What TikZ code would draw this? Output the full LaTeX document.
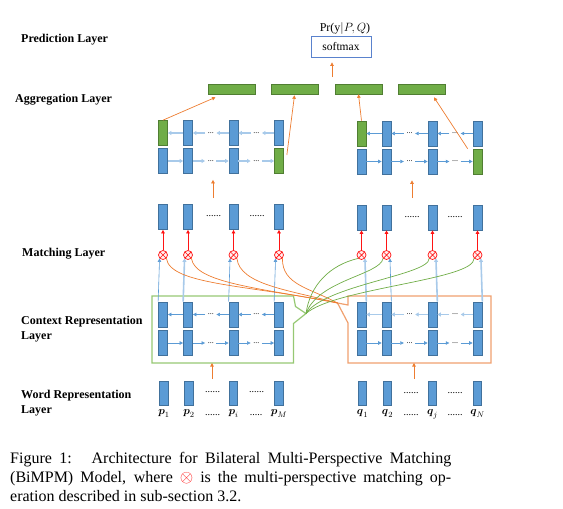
\documentclass[tikz,border=0pt]{standalone}
\usepackage{amsmath,amssymb}
\usepackage{xcolor}
\usepackage{fontspec}
\setmainfont{Liberation Serif}
\usepackage{tikz}
\usetikzlibrary{arrows.meta,calc}
\definecolor{cellblue}{RGB}{91,155,213}
\definecolor{cellblueline}{RGB}{65,113,156}
\definecolor{cellgreen}{RGB}{112,173,71}
\definecolor{cellgreenline}{RGB}{80,126,50}
\definecolor{flowline}{RGB}{91,155,213}
\definecolor{flowpale}{RGB}{168,202,234}
\definecolor{aggorange}{RGB}{237,125,49}
\definecolor{boxgreen}{RGB}{150,200,115}
\definecolor{boxorange}{RGB}{240,160,110}
\definecolor{matchred}{RGB}{255,20,20}
\definecolor{softblue}{RGB}{90,130,205}

\begin{document}
\begin{tikzpicture}[x=1pt, y=-1pt,
    cell/.style={draw=cellblueline, fill=cellblue, line width=0.7pt, minimum width=9pt, minimum height=25pt, inner sep=0pt},
    gcell/.style={cell, draw=cellgreenline, fill=cellgreen},
    aggbar/.style={draw=cellgreenline, fill=cellgreen, line width=0.6pt, minimum width=47pt, minimum height=10pt, inner sep=0pt},
    rnn/.style={draw=flowline, line width=0.6pt, -{Triangle[length=3.5pt,width=3.5pt]}},
    rnnpale/.style={draw=flowpale, line width=1.6pt, -{Triangle[length=3.5pt,width=4pt]}},
    rdots/.style={font=\fontsize{8}{8}\selectfont, inner xsep=2.5pt, inner ysep=1pt},
    vdots/.style={font=\fontsize{10}{10}\selectfont, inner sep=0pt},
    mop/.style={circle, draw=matchred, fill=red!6, line width=0.7pt, minimum size=9pt, inner sep=0pt,
        path picture={\draw[matchred, line width=0.7pt] (path picture bounding box.north west) -- (path picture bounding box.south east)
            (path picture bounding box.north east) -- (path picture bounding box.south west);}},
    oarrow/.style={draw=aggorange, line width=0.7pt, -{Triangle[length=3.5pt,width=3.5pt]}},
    rarrow/.style={draw=matchred, line width=0.7pt, -{Triangle[length=3.5pt,width=3.5pt]}},
    ocurve/.style={draw=aggorange, line width=0.7pt},
    gcurve/.style={draw=cellgreen, line width=0.7pt},
    layer/.style={font=\fontsize{12}{15}\selectfont\bfseries, anchor=west, align=left, inner sep=0pt},
    wlabel/.style={font=\fontsize{11}{13}\selectfont, anchor=base, inner sep=0pt}
]
    \useasboundingbox (0,0) rectangle (563,509);

    % Layer names
    \node[layer] (predlabel) at (21,40) {Prediction Layer};
    \node[layer] (agglabel) at (15,100) {Aggregation Layer};
    \node[layer] (matchlabel) at (22,254) {Matching Layer};
    \node[layer] (ctxlabel) at (21,328.8) {Context Representation\\Layer};
    \node[layer] (wordlabel) at (21,402.8) {Word Representation\\Layer};

    % Prediction layer
    \node[font=\fontsize{12}{14}\selectfont, inner sep=0pt] (prob) at (345,28) {Pr(y$|P,Q$)};
    \node[draw=softblue, line width=0.8pt, minimum width=60pt, minimum height=21pt, inner sep=0pt,
        font=\fontsize{11.5}{13}\selectfont] (softmax) at (341,46.5) {softmax};

    % Aggregation layer
    \foreach \i/\x in {1/231.5, 2/294.5, 3/358.5, 4/422}
        \node[aggbar] (agg\i) at (\x,89) {};
    \coordinate (aggup) at (332,77);
    \draw[oarrow, shorten >=5pt] (aggup) -- (aggup |- softmax.south);

    \foreach \i/\x/\bs/\fs in {1/163/gcell/cell, 2/188/cell/cell, 3/233.5/cell/cell, 4/279/cell/gcell} {
        \node[\bs] (apb\i) at (\x,133) {};
        \node[\fs] (apf\i) at (\x,161) {};
    }
    \foreach \i/\x/\bs/\fs in {1/361.5/gcell/cell, 2/386.5/cell/cell, 3/432.5/cell/cell, 4/477.5/cell/gcell} {
        \node[\bs] (aqb\i) at (\x,133.5) {};
        \node[\fs] (aqf\i) at (\x,161.5) {};
    }

    % Context layer
    \coordinate (gtip) at (306,313.5);
    \coordinate (otip) at (337.5,303);
    \draw[draw=boxgreen, line width=1.2pt] (152,296) -- (293.5,296) -- (295.5,306.5) -- (gtip)
        -- (293.5,323.5) -- (293.5,363) -- (152,363) -- cycle;
    \draw[draw=boxorange, line width=1.2pt] (348,296) -- (491,296) -- (491,363) -- (348,363)
        -- (348,323) -- (otip) -- (348,305) -- cycle;
    \coordinate (pbox) at (152,363);

    \foreach \i/\x in {1/163, 2/188, 3/233.5, 4/279} {
        \node[cell] (cpb\i) at (\x,314.5) {};
        \node[cell] (cpf\i) at (\x,343) {};
    }
    \foreach \i/\x in {1/361.5, 2/386.5, 3/432.5, 4/477.5} {
        \node[cell] (cqb\i) at (\x,314.5) {};
        \node[cell] (cqf\i) at (\x,343) {};
    }

    % BiLSTM steps: backward rows, then forward rows
    \foreach \rw/\st in {apb/rnnpale, aqb/rnn, cpb/rnn, cqb/rnnpale} {
        \node[rdots] (\rw d1) at ($(\rw2)!0.5!(\rw3)$) {...};
        \node[rdots] (\rw d2) at ($(\rw3)!0.5!(\rw4)$) {...};
        \draw[\st] (\rw2) -- (\rw1);
        \draw[\st] (\rw d1) -- (\rw2);
        \draw[\st] (\rw3) -- (\rw d1);
        \draw[\st] (\rw d2) -- (\rw3);
        \draw[\st] (\rw4) -- (\rw d2);
    }
    \foreach \rw/\st in {apf/rnnpale, aqf/rnn, cpf/rnn, cqf/rnn} {
        \node[rdots] (\rw d1) at ($(\rw2)!0.5!(\rw3)$) {...};
        \node[rdots] (\rw d2) at ($(\rw3)!0.5!(\rw4)$) {...};
        \draw[\st] (\rw1) -- (\rw2);
        \draw[\st] (\rw2) -- (\rw d1);
        \draw[\st] (\rw d1) -- (\rw3);
        \draw[\st] (\rw3) -- (\rw d2);
        \draw[\st] (\rw d2) -- (\rw4);
    }

    % Aggregation inputs
    \draw[oarrow] (apb1.north) -- ([xshift=-16pt,yshift=-3pt]agg1.south);
    \draw[oarrow] ([xshift=3pt,yshift=6pt]apf4.east) -- ([yshift=-1pt]agg2.south);
    \draw[oarrow] (aqb1.north) -- (agg3.south);
    \draw[oarrow] ([xshift=-5pt]aqf4.north west) -- ([xshift=12pt,yshift=-3pt]agg4.south);

    % Matching layer
    \foreach \i/\x/\st in {1/163/rnn, 2/188/rnnpale, 3/233.5/rnn, 4/279/rnn} {
        \node[cell] (mp\i) at (\x,217) {};
        \node[mop] (ep\i) at (\x,255) {};
        \draw[rarrow] (ep\i) -- (mp\i);
        \draw[\st] (cpb\i.north west) -- (ep\i.south west);
    }
    \foreach \i/\x/\st in {1/361.5/rnnpale, 2/386.5/rnn, 3/432.5/rnnpale, 4/477.5/rnnpale} {
        \node[cell] (mq\i) at (\x,217.5) {};
        \node[mop] (eq\i) at (\x,255) {};
        \draw[rarrow] (eq\i) -- (mq\i);
        \draw[\st] (cqb\i.north east) -- (eq\i.south east);
    }
    \node[vdots] (mpd1) at (213.5,216) {......};
    \node[vdots] (mpd2) at (257,216) {......};
    \node[vdots] (mqd1) at (412,217) {......};
    \node[vdots] (mqd2) at (455,217) {......};

    \coordinate (mpup) at (213,198);
    \coordinate (mqup) at (412,198);
    \draw[oarrow, shorten >=6pt] (mpup) -- (mpup |- apf1.south);
    \draw[oarrow, shorten >=6pt] (mqup) -- (mqup |- aqf1.south);

    % Cross matching
    \draw[ocurve] (otip) .. controls (250,285) and (170,285) .. (ep1.south east);
    \draw[ocurve] (otip) .. controls (260,288) and (195,283) .. (ep2.south east);
    \draw[ocurve] (otip) .. controls (290,290) and (240,285) .. (ep3.south east);
    \draw[ocurve] (otip) .. controls (310,288) and (282,285) .. (ep4.south east);
    \draw[gcurve] (gtip) .. controls (310,285) and (330,265) .. (eq1.south west);
    \draw[gcurve] (gtip) .. controls (318,280) and (380,275) .. (eq2.south west);
    \draw[gcurve] (gtip) .. controls (325,285) and (430,275) .. (eq3.south west);
    \draw[gcurve] (gtip) .. controls (335,288) and (475,280) .. (eq4.south west);

    % Word representation layer
    \foreach \i/\x/\lab in {1/164/1, 2/189/2, 3/233.5/i, 4/279/M} {
        \node[cell, minimum width=8.5pt, minimum height=24pt] (wp\i) at (\x,393) {};
        \node[wlabel] (lp\i) at (\x,414.5) {$\boldsymbol{p}_{\lab}$};
    }
    \foreach \i/\x/\lab in {1/362.5/1, 2/387.5/2, 3/432.5/j, 4/477.5/N} {
        \node[cell, minimum width=8.5pt, minimum height=24pt] (wq\i) at (\x,393) {};
        \node[wlabel] (lq\i) at (\x,414.5) {$\boldsymbol{q}_{\lab}$};
    }
    \node[vdots] (wpd1) at (212.5,392) {......};
    \node[vdots] (wpd2) at (256.5,392) {......};
    \node[vdots] (wqd1) at (411,393) {......};
    \node[vdots] (wqd2) at (455,393) {......};
    \node[vdots, anchor=base] (lpd1) at (212.5,415) {......};
    \node[vdots, anchor=base] (lpd2) at (256,415) {.....};
    \node[vdots, anchor=base] (lqd1) at (411,415.5) {......};
    \node[vdots, anchor=base] (lqd2) at (455,415.5) {......};

    \coordinate (wpup) at (212,379);
    \coordinate (wqup) at (414,379);
    \draw[oarrow] (wpup) -- (wpup |- pbox);
    \draw[oarrow] (wqup) -- (wqup |- pbox);

    % Caption
    \node[anchor=base west, inner sep=0pt, text width=441pt, align=justify,
        font=\fontsize{16}{19}\selectfont] (caption) at (10,463.5)
        {Figure 1: \ Architecture for Bilateral Multi-Perspective Matching\linebreak
        (BiMPM) Model, where {\color{matchred}$\otimes$} is the multi-perspective matching op-\linebreak
        eration described in sub-section 3.2.};
\end{tikzpicture}
\end{document}
